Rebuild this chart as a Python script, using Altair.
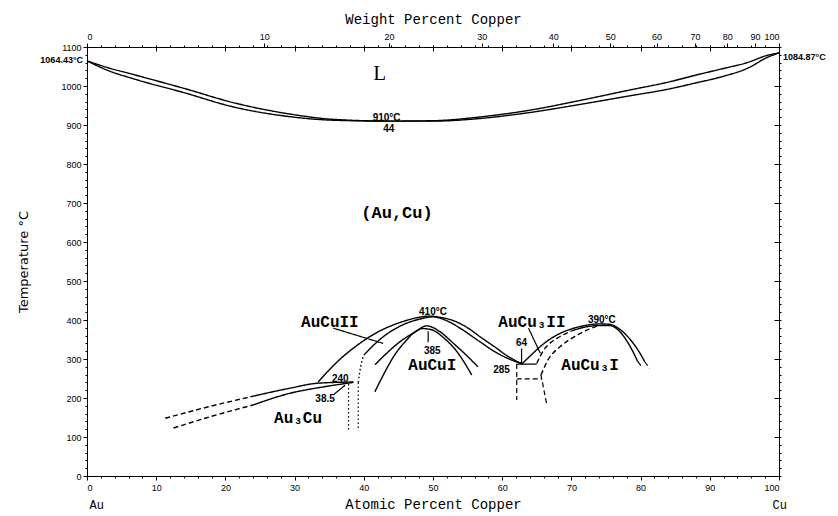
import altair as alt
import pandas as pd

# ---------------- data (atomic % Cu, temperature °C) ----------------
liq_x = [0, 3, 7, 14, 21, 29, 36, 44, 50, 57, 64, 71, 78.5, 84, 88, 92, 95.4, 98.4, 100]
liq_t = [1064.43, 1047, 1028, 994, 958, 929, 914, 910, 911, 921, 938, 962, 990, 1010, 1028, 1045, 1060, 1079, 1084.87]
sol_x = [0, 3, 7, 14, 21, 29, 36, 44, 50, 57, 64, 71, 78.5, 84, 88, 92, 95.4, 98.4, 100]
sol_t = [1064.43, 1040, 1017, 983, 947, 922, 912, 910, 910, 917, 932, 952, 975, 992, 1008, 1025, 1045, 1074, 1084.87]

aucu2_out_x = [33.4, 35, 36.6, 38.5, 40.4, 42, 43.8, 46, 48, 49.3, 51, 53, 55, 56.8, 59, 61, 63]
aucu2_out_t = [241, 272, 300, 328, 352, 369, 384, 398, 407, 410, 407, 398, 380, 357, 330, 305, 287]
aucu2_in_x = [40, 41.5, 42.8, 45, 48, 50, 52, 54, 56.8, 59, 61, 63]
aucu2_in_t = [310, 337, 357, 382, 402, 408, 398, 378, 344, 318, 300, 287]
aucu2_dot_x = [39.2, 39.4, 39.7, 40]
aucu2_dot_t = [240, 265, 293, 310]

aucu1_out_x = [41.6, 43.5, 45.2, 47.3, 49.1, 51, 52.9, 54.8, 56.5]
aucu1_out_t = [285, 318, 344, 368, 385, 370, 341, 310, 280]
aucu1_in_x = [41.6, 43, 44.3, 46, 47.6, 48.5, 49.8, 51.5, 53.5, 55.6]
aucu1_in_t = [216, 265, 306, 345, 372, 378, 375, 355, 318, 259]

aucu3_a_x = [62.8, 64, 65.5, 67, 68.4, 70, 72, 74, 75.5, 77, 78.5, 79.8, 80.6]
aucu3_a_t = [287, 307, 332, 352, 366, 377, 386, 390, 389, 376, 350, 318, 293]
aucu3_bd_x = [65, 66, 67, 68.3, 70]
aucu3_bd_t = [289, 323, 342, 357, 372]
aucu3_b_x = [70, 72, 74, 75.5, 77, 78.3, 79.6]
aucu3_b_t = [372, 382, 386, 386, 370, 338, 293]
aucu3_c_x = [65.6, 66.6, 68.4, 70.5, 72.5, 74]
aucu3_c_t = [259, 297, 332, 358, 376, 386]

au3cu_up_dash_x = [11.3, 17, 23.6]
au3cu_up_dash_t = [148, 175, 203]
au3cu_up_x = [23.6, 29.3, 33.4, 38.5]
au3cu_up_t = [203, 225, 238, 241]
au3cu_lo_dash_x = [12.5, 18, 24]
au3cu_lo_dash_t = [123, 153, 182]
au3cu_lo_x = [24, 29.3, 34, 38.5]
au3cu_lo_t = [182, 212, 228, 240]

# straight segments: (x0, x1, t0, t1, style)
seg_x0 = [80.6, 79.6, 66.4, 62.1, 62.1, 62.1, 37.8, 39.2, 35.6, 49.3, 62.8, 63.8, 35.6]
seg_x1 = [81.3, 80.3, 65.6, 65.0, 62.1, 65.7, 37.8, 39.2, 42.8, 49.3, 62.8, 65.5, 37.3]
seg_t0 = [293, 293, 187, 287, 287, 249, 236, 240, 379, 371, 327, 379, 208]
seg_t1 = [276, 277, 259, 287, 195, 249, 118, 122, 340, 343, 290, 315, 233]
seg_style = ["dashed", "dashed", "dashed", "solid", "dashed", "dashed", "dotted", "dotted",
             "solid", "solid", "solid", "solid", "solid"]

# labels
phase_text = ["AuCuII", "AuCuI", "AuCu\u2083II", "AuCu\u2083I", "Au\u2083Cu"]
phase_x = [35.1, 49.9, 64.3, 72.7, 30.5]
phase_t = [395, 285, 395, 285, 149]

num_text = ["910°C", "44", "410°C", "385", "64", "285", "390°C", "240", "38.5"]
num_x = [43.3, 43.6, 50, 49.9, 62.8, 59.9, 74.4, 36.6, 34.4]
num_t = [919, 890, 421, 321, 340, 272, 401, 250, 197]

big_text = ["L", "(Au,Cu)"]
big_x = [42.3, 44.8]
big_t = [1031, 674]

end_text = ["Au", "Cu"]
end_x = [1.4, 100.1]
end_t = [-75, -75]

melt_left_text = ["1064.43°C"]
melt_left_x = [0]
melt_left_t = [1067]
melt_right_text = ["1084.87°C"]
melt_right_x = [100]
melt_right_t = [1074]

wt_ticks = [0, 10, 20, 30, 40, 50, 60, 70, 80, 90, 100]
at_ticks = list(range(0, 101, 10))
at_minor = list(range(0, 101, 2))
t_ticks = list(range(0, 1101, 100))
t_minor = list(range(0, 1101, 20))

M_CU, M_AU = 63.546, 196.967
wt_pos = [100 * (w / M_CU) / (w / M_CU + (100 - w) / M_AU) for w in wt_ticks]

# ---------------- tables ----------------
smooth = [
    ("liq", "solid", liq_x, liq_t), ("sol", "solid", sol_x, sol_t),
    ("c2o", "solid", aucu2_out_x, aucu2_out_t), ("c2i", "solid", aucu2_in_x, aucu2_in_t),
    ("c2d", "dotted", aucu2_dot_x, aucu2_dot_t),
    ("c1o", "solid", aucu1_out_x, aucu1_out_t), ("c1i", "solid", aucu1_in_x, aucu1_in_t),
    ("c3a", "solid", aucu3_a_x, aucu3_a_t), ("c3bd", "dashed", aucu3_bd_x, aucu3_bd_t),
    ("c3b", "solid", aucu3_b_x, aucu3_b_t), ("c3c", "dashed", aucu3_c_x, aucu3_c_t),
    ("a3ud", "dashed", au3cu_up_dash_x, au3cu_up_dash_t), ("a3u", "solid", au3cu_up_x, au3cu_up_t),
    ("a3ld", "dashed", au3cu_lo_dash_x, au3cu_lo_dash_t), ("a3l", "solid", au3cu_lo_x, au3cu_lo_t),
]
rows = []
for name, style, xs, ts in smooth:
    for i, (x, t) in enumerate(zip(xs, ts)):
        rows.append({"curve": name, "style": style, "i": i, "x": x, "t": t})
df_smooth = pd.DataFrame(rows)

rows = []
for k, (x0, x1, t0, t1, st) in enumerate(zip(seg_x0, seg_x1, seg_t0, seg_t1, seg_style)):
    rows.append({"curve": f"s{k}", "style": st, "i": 0, "x": x0, "t": t0})
    rows.append({"curve": f"s{k}", "style": st, "i": 1, "x": x1, "t": t1})
df_seg = pd.DataFrame(rows)

XS = alt.Scale(domain=[0, 100], nice=False, zero=False)
YS = alt.Scale(domain=[0, 1100], nice=False, zero=False)
DASH = alt.Scale(domain=["solid", "dashed", "dotted"], range=[[1, 0], [5, 3], [1.5, 2.5]])

LAB = dict(labelFont="Liberation Sans", labelFontSize=9, labelColor="black",
           domainColor="black", tickColor="black", grid=False)

wt_expr = "round(100*63.546*datum.value/(63.546*datum.value+196.967*(100-datum.value)))"

curves = alt.Chart(df_smooth).mark_line(interpolate="monotone", color="black", strokeWidth=1.4).encode(
    x=alt.X("x:Q", scale=XS, axis=alt.Axis(values=at_ticks, tickSize=4, title="Atomic Percent Copper",
                                           titleFont="Liberation Mono", titleFontSize=14,
                                           titleFontWeight="normal", titlePadding=5, labelPadding=3, **LAB)),
    y=alt.Y("t:Q", scale=YS, axis=alt.Axis(values=t_ticks, tickSize=4, format="d", title="Temperature °C",
                                           titleFont="DejaVu Sans", titleFontSize=13,
                                           titleFontWeight="normal", titlePadding=30, labelPadding=2, **LAB)),
    detail="curve:N", order="i:Q",
    strokeDash=alt.StrokeDash("style:N", scale=DASH, legend=None),
)

segs = alt.Chart(df_seg).mark_line(color="black", strokeWidth=1.2).encode(
    x=alt.X("x:Q", scale=XS, axis=alt.Axis(orient="top", values=wt_pos, labelExpr=wt_expr, tickSize=4,
                                           title="Weight Percent Copper", titleFont="Liberation Mono",
                                           titleFontSize=14, titleFontWeight="normal", titlePadding=6,
                                           labelPadding=2, **LAB)),
    y=alt.Y("t:Q", scale=YS, axis=alt.Axis(orient="right", values=t_minor, tickSize=2, labels=False,
                                           title=None, **LAB)),
    detail="curve:N", order="i:Q",
    strokeDash=alt.StrokeDash("style:N", scale=DASH, legend=None),
)

def text_layer(texts, xs, ts, xaxis, yaxis, **mk):
    d = pd.DataFrame({"label": texts, "x": xs, "t": ts})
    return alt.Chart(d).mark_text(color="black", **mk).encode(
        x=alt.X("x:Q", scale=XS, axis=xaxis),
        y=alt.Y("t:Q", scale=YS, axis=yaxis),
        text="label:N",
    )

minor_x_bottom = alt.Axis(values=at_minor, tickSize=2, labels=False, domain=False, title=None, **LAB)
minor_y_left = alt.Axis(values=t_minor, tickSize=2, labels=False, domain=False, title=None, **LAB)
inner_x_top = alt.Axis(orient="bottom", offset=-429, values=at_ticks, tickSize=4, labels=False,
                       domain=False, title=None, **LAB)
inner_y_right = alt.Axis(orient="left", offset=-692, values=t_ticks, tickSize=5, labels=False,
                         domain=False, title=None, **LAB)
minor_x_top = alt.Axis(orient="top", values=at_minor, tickSize=2, labels=False, domain=False,
                       title=None, **LAB)

t_phase = text_layer(phase_text, phase_x, phase_t, minor_x_bottom, minor_y_left,
                     font="Liberation Mono", fontSize=16, fontWeight="bold")
t_num = text_layer(num_text, num_x, num_t, inner_x_top, inner_y_right,
                   font="Liberation Sans", fontSize=10, fontWeight="bold")
t_big = text_layer([big_text[0]], [big_x[0]], [big_t[0]], minor_x_top, None,
                   font="Liberation Serif", fontSize=21)
t_aucu = text_layer([big_text[1]], [big_x[1]], [big_t[1]], None, None,
                    font="Liberation Mono", fontSize=17, fontWeight="bold")
t_end = text_layer(end_text, end_x, end_t, None, None, font="Liberation Mono", fontSize=12)
t_ml = text_layer(melt_left_text, melt_left_x, melt_left_t, None, None, font="Liberation Sans",
                  fontSize=9, fontWeight="bold", align="right", dx=-4)
t_mr = text_layer(melt_right_text, melt_right_x, melt_right_t, None, None, font="Liberation Sans",
                  fontSize=9, fontWeight="bold", align="left", dx=4)

chart = alt.layer(curves, segs, t_phase, t_num, t_big, t_aucu, t_end, t_ml, t_mr).resolve_axis(
    x="independent", y="independent"
).properties(
    width=692, height=429,
    padding={"left": 79, "top": 39, "right": 51, "bottom": 37},
    autosize=alt.AutoSizeParams(type="none"),
).configure_view(stroke=None).configure(background="white")

chart.save("out.html", embed_options={"renderer": "svg", "actions": False})
